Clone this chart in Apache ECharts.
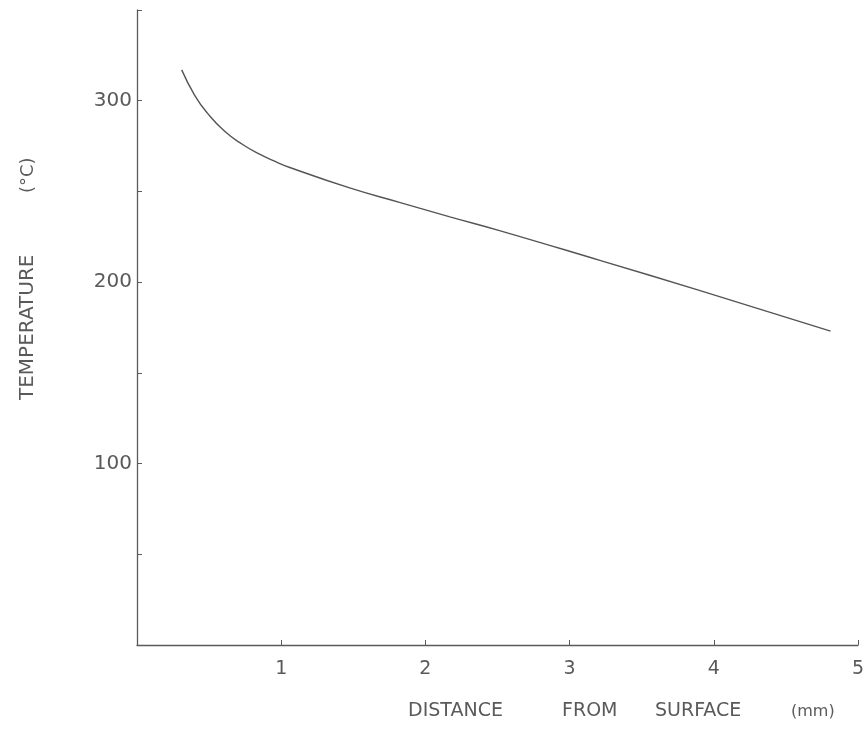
<!DOCTYPE html>
<html>
<head>
<meta charset="utf-8">
<script src="https://cdn.jsdelivr.net/npm/echarts@6/dist/echarts.min.js"></script>
<style>
  html, body { margin: 0; padding: 0; background: #fff; }
  #chart { width: 867px; height: 730px; }
</style>
</head>
<body>
<div id="chart"></div>
<script>
// Temperature profile below the heated surface
const distanceMm = [0.31, 0.40, 0.49, 0.61, 0.73, 0.85, 0.95, 1.06, 1.48, 1.82, 2.17, 2.52, 3.21, 3.90, 4.81];
const temperatureC = [317, 303, 293, 283, 276, 270.5, 266.8, 263.2, 251.8, 244, 236, 228.3, 212, 195.5, 173];
const yLabelValues = [100, 200, 300];
const xLabelValues = [1, 2, 3, 4, 5];

const ink = '#5a5a5a';
const font = 'DejaVu Sans';

const chart = echarts.init(document.getElementById('chart'));
chart.setOption({
  backgroundColor: '#fff',
  animation: false,
  grid: { left: 137, right: 9, top: 10, bottom: 85 },
  xAxis: {
    type: 'value', min: 0, max: 5, interval: 1,
    axisLine: { lineStyle: { color: ink, width: 1.3 } },
    axisTick: { inside: true, length: 5, lineStyle: { color: ink } },
    splitLine: { show: false },
    axisLabel: {
      color: ink, fontFamily: font, fontSize: 19, margin: 15,
      formatter: v => xLabelValues.includes(v) ? String(v) : ''
    }
  },
  yAxis: {
    type: 'value', min: 0, max: 350, interval: 50,
    axisLine: { show: true, lineStyle: { color: ink, width: 1.3 } },
    axisTick: { show: true, inside: true, length: 5, lineStyle: { color: ink } },
    splitLine: { show: false },
    axisLabel: {
      color: ink, fontFamily: font, fontSize: 20, margin: 5,
      formatter: v => yLabelValues.includes(v) ? String(v) : ''
    }
  },
  series: [{
    type: 'line',
    data: distanceMm.map((x, i) => [x, temperatureC[i]]),
    smooth: 0.5,
    showSymbol: false,
    lineStyle: { color: '#555', width: 1.4 }
  }],
  graphic: [
    {
      type: 'text', left: 408, top: 702,
      style: {
        text: '{a|DISTANCE}{b|FROM}{c|SURFACE}{s|(mm)}',
        fill: ink,
        rich: {
          a: { fontFamily: font, fontSize: 19, fill: ink, width: 154 },
          b: { fontFamily: font, fontSize: 19, fill: ink, width: 93 },
          c: { fontFamily: font, fontSize: 19, fill: ink, width: 136 },
          s: { fontFamily: font, fontSize: 16, fill: ink }
        }
      }
    },
    {
      type: 'text', x: 18, y: 400, rotation: Math.PI / 2,
      style: {
        text: '{t|TEMPERATURE}{u|(°C)}',
        fill: ink,
        rich: {
          t: { fontFamily: font, fontSize: 20, fill: ink, width: 207 },
          u: { fontFamily: font, fontSize: 18, fill: ink }
        }
      }
    }
  ]
});
</script>
</body>
</html>
